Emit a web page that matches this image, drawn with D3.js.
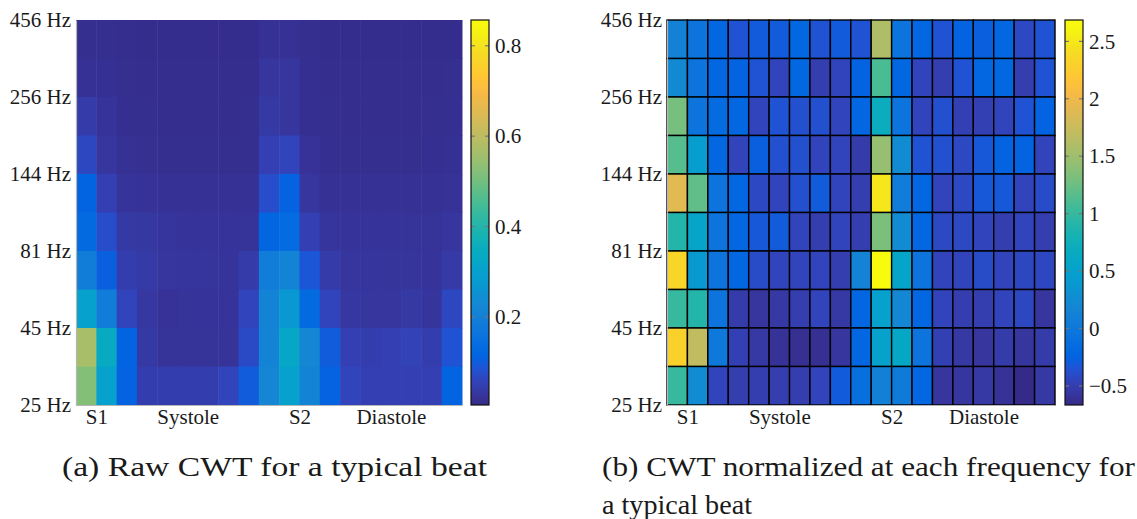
<!DOCTYPE html>
<html>
<head>
<meta charset="utf-8">
<script src="https://cdn.jsdelivr.net/npm/d3@7"></script>
</head>
<body style="margin:0">
<svg id="chart" width="1137" height="519"></svg>
<script>
// frequency labels sit on row edges 0,2,4,...,10 (top to bottom)
const freqLabels = ['456 Hz', '256 Hz', '144 Hz', '81 Hz', '45 Hz', '25 Hz']
const freqEdges = [0, 2, 4, 6, 8, 10]
// phase labels, in column units
const phaseLabels = ['S1', 'Systole', 'S2', 'Diastole']
const phaseCols = [1, 5.5, 11, 15.5]

// raw CWT, rows from 456 Hz (top) down to 25 Hz, 19 time bins
const rawCwt = [
  [0.015, 0.015, 0.013, 0.012, 0.012, 0.012, 0.012, 0.012, 0.012, 0.020, 0.020, 0.015, 0.012, 0.012, 0.012, 0.012, 0.012, 0.012, 0.012],
  [0.020, 0.018, 0.015, 0.014, 0.013, 0.013, 0.013, 0.013, 0.013, 0.030, 0.030, 0.016, 0.014, 0.014, 0.014, 0.014, 0.014, 0.014, 0.015],
  [0.040, 0.025, 0.016, 0.015, 0.014, 0.014, 0.014, 0.014, 0.015, 0.035, 0.030, 0.016, 0.015, 0.014, 0.014, 0.014, 0.014, 0.015, 0.016],
  [0.065, 0.030, 0.020, 0.017, 0.015, 0.015, 0.015, 0.015, 0.015, 0.050, 0.060, 0.022, 0.016, 0.015, 0.015, 0.015, 0.015, 0.016, 0.018],
  [0.115, 0.050, 0.025, 0.022, 0.020, 0.020, 0.020, 0.020, 0.020, 0.075, 0.110, 0.030, 0.020, 0.020, 0.020, 0.020, 0.020, 0.020, 0.022],
  [0.130, 0.075, 0.035, 0.033, 0.028, 0.026, 0.025, 0.025, 0.024, 0.120, 0.135, 0.050, 0.028, 0.025, 0.025, 0.025, 0.024, 0.024, 0.030],
  [0.190, 0.105, 0.045, 0.038, 0.030, 0.028, 0.027, 0.026, 0.040, 0.190, 0.210, 0.090, 0.040, 0.030, 0.028, 0.027, 0.027, 0.026, 0.038],
  [0.300, 0.190, 0.060, 0.032, 0.022, 0.024, 0.025, 0.025, 0.060, 0.210, 0.270, 0.130, 0.060, 0.032, 0.030, 0.030, 0.035, 0.028, 0.065],
  [0.570, 0.340, 0.115, 0.035, 0.024, 0.024, 0.024, 0.024, 0.070, 0.210, 0.320, 0.220, 0.100, 0.050, 0.045, 0.050, 0.055, 0.045, 0.085],
  [0.520, 0.300, 0.110, 0.045, 0.045, 0.045, 0.045, 0.060, 0.100, 0.220, 0.300, 0.210, 0.110, 0.060, 0.050, 0.050, 0.050, 0.050, 0.115]
]
const rawRange = [0.005, 0.857]
const rawTicks = [0.2, 0.4, 0.6, 0.8]

// CWT normalized at each frequency
const normCwt = [
  [0.12, -0.05, -0.20, -0.35, -0.30, -0.30, -0.20, -0.35, -0.30, -0.35, 1.60, -0.05, -0.20, -0.35, -0.25, -0.27, -0.20, -0.42, -0.35],
  [0.22, -0.05, -0.20, -0.25, -0.35, -0.45, -0.20, -0.50, -0.45, -0.25, 1.10, -0.20, -0.45, -0.50, -0.35, -0.20, -0.20, -0.50, -0.35],
  [1.30, -0.05, -0.15, -0.20, -0.45, -0.35, -0.37, -0.37, -0.45, -0.20, 0.70, -0.05, -0.45, -0.37, -0.48, -0.48, -0.45, -0.35, -0.25],
  [1.15, 0.45, -0.20, -0.45, -0.27, -0.37, -0.37, -0.45, -0.45, -0.52, 1.45, 0.25, -0.35, -0.37, -0.42, -0.32, -0.25, -0.25, -0.45],
  [1.90, 1.20, -0.05, -0.20, -0.42, -0.45, -0.37, -0.30, -0.45, -0.50, 2.50, 0.05, -0.20, -0.45, -0.42, -0.32, -0.32, -0.45, -0.40],
  [0.90, 0.55, -0.05, -0.20, -0.32, -0.30, -0.45, -0.50, -0.45, -0.50, 1.32, 0.25, -0.20, -0.42, -0.42, -0.45, -0.50, -0.45, -0.50],
  [2.35, 0.40, -0.05, -0.20, -0.40, -0.45, -0.45, -0.45, -0.50, 0.15, 2.68, 0.55, -0.05, -0.45, -0.45, -0.40, -0.45, -0.43, -0.43],
  [1.00, 0.90, -0.05, -0.53, -0.57, -0.55, -0.50, -0.45, -0.55, -0.20, 0.50, 0.20, -0.20, -0.45, -0.50, -0.50, -0.45, -0.43, -0.57],
  [2.30, 1.70, 0.00, -0.48, -0.55, -0.60, -0.62, -0.62, -0.57, -0.20, 0.52, 0.60, -0.05, -0.48, -0.55, -0.57, -0.52, -0.57, -0.52],
  [1.00, 0.25, -0.45, -0.50, -0.50, -0.50, -0.50, -0.45, -0.30, -0.10, 0.10, 0.03, -0.20, -0.57, -0.57, -0.55, -0.60, -0.666, -0.55]
]
const normRange = [-0.666, 2.686]
const normTicks = [-0.5, 0, 0.5, 1, 1.5, 2, 2.5]

// parula colormap (subsampled)
const parula = [
  [0.2081, 0.1663, 0.5292], [0.2123, 0.2138, 0.6270], [0.1959, 0.2645, 0.7279],
  [0.1253, 0.3242, 0.8303], [0.0117, 0.3875, 0.8820], [0.0165, 0.4266, 0.8786],
  [0.0498, 0.4586, 0.8641], [0.0723, 0.4887, 0.8467], [0.0793, 0.5200, 0.8312],
  [0.0641, 0.5570, 0.8240], [0.0343, 0.5966, 0.8199], [0.0239, 0.6287, 0.8038],
  [0.0228, 0.6535, 0.7768], [0.0384, 0.6743, 0.7436], [0.0843, 0.6928, 0.7062],
  [0.1453, 0.7098, 0.6646], [0.2178, 0.7250, 0.6193], [0.3022, 0.7376, 0.5712],
  [0.3953, 0.7459, 0.5244], [0.4871, 0.7491, 0.4840], [0.5709, 0.7485, 0.4494],
  [0.6473, 0.7456, 0.4188], [0.7184, 0.7411, 0.3905], [0.7858, 0.7356, 0.3633],
  [0.8507, 0.7299, 0.3360], [0.9139, 0.7258, 0.3063], [0.9739, 0.7314, 0.2666],
  [0.9990, 0.7653, 0.2164], [0.9880, 0.8066, 0.1794], [0.9697, 0.8481, 0.1475],
  [0.9589, 0.8949, 0.1132], [0.9661, 0.9514, 0.0755], [0.9763, 0.9831, 0.0538]
].map(c => d3.rgb(c[0] * 255, c[1] * 255, c[2] * 255).toString())

const svg = d3.select('#chart')
const fmt = d => d < 0 ? '\u2212' + Math.abs(d) : String(d)

function styleText (sel, size) {
  sel.style('font-family', '"Liberation Serif"')
    .style('font-size', size + 'px')
    .style('fill', '#1a1a1a')
}

function drawPanel (opt) {
  const { data, range, ticks, x0, x1, cb0, cb1, grid, id } = opt
  const top = 20
  const bottom = 405
  const nCols = data[0].length
  const nRows = data.length

  const color = d3.scaleLinear()
    .domain(parula.map((c, i) => range[0] + (range[1] - range[0]) * i / (parula.length - 1)))
    .range(parula)
    .clamp(true)

  const x = d3.scaleBand().domain(d3.range(nCols)).range([x0, x1])
  const y = d3.scaleBand().domain(d3.range(nRows)).range([top, bottom])
  const g = svg.append('g')

  const cells = []
  data.forEach((row, r) => row.forEach((v, c) => cells.push({ r, c, v })))
  g.selectAll('rect.cell')
    .data(cells)
    .enter().append('rect')
    .attr('class', 'cell')
    .attr('x', d => x(d.c))
    .attr('y', d => y(d.r))
    .attr('width', x.bandwidth() + (grid ? 0 : 0.5))
    .attr('height', y.bandwidth() + (grid ? 0 : 0.5))
    .attr('fill', d => color(d.v))
    .attr('stroke', grid ? '#000' : 'none')
    .attr('stroke-width', grid ? 1.4 : 0)

  // axes: frequency on left, phase below
  const yEdge = d3.scaleLinear().domain([0, nRows]).range([top, bottom])
  const yAxis = g.append('g')
    .attr('transform', `translate(${x0},0)`)
    .call(d3.axisLeft(yEdge).tickValues(freqEdges).tickFormat((d, i) => freqLabels[i]).tickSize(0).tickPadding(5))
  const xCol = d3.scaleLinear().domain([0, nCols]).range([x0, x1])
  const xAxis = g.append('g')
    .attr('transform', `translate(0,${bottom})`)
    .call(d3.axisBottom(xCol).tickValues(phaseCols).tickFormat((d, i) => phaseLabels[i]).tickSize(0).tickPadding(4))
  ;[yAxis, xAxis].forEach(a => {
    a.attr('font-family', null).attr('font-size', null)
    a.select('.domain').attr('stroke', '#b5b5b5').attr('stroke-width', 1.2)
    styleText(a.selectAll('text'), 21)
  })

  // colorbar
  const grad = svg.append('defs').append('linearGradient')
    .attr('id', id).attr('x1', 0).attr('y1', 1).attr('x2', 0).attr('y2', 0)
  parula.forEach((c, i) => {
    grad.append('stop').attr('offset', i / (parula.length - 1)).attr('stop-color', c)
  })
  const cy = d3.scaleLinear().domain(range).range([bottom, top])
  g.append('rect')
    .attr('x', cb0).attr('y', top)
    .attr('width', cb1 - cb0).attr('height', bottom - top)
    .attr('fill', `url(#${id})`)
  g.selectAll('line.cbtick')
    .data(ticks.flatMap(t => [[t, cb0], [t, cb1 - 4]]))
    .enter().append('line')
    .attr('class', 'cbtick')
    .attr('x1', d => d[1]).attr('x2', d => d[1] + 4)
    .attr('y1', d => cy(d[0])).attr('y2', d => cy(d[0]))
    .attr('stroke', '#777').attr('stroke-width', 1.2)
  g.append('rect')
    .attr('x', cb0).attr('y', top)
    .attr('width', cb1 - cb0).attr('height', bottom - top)
    .attr('fill', 'none').attr('stroke', '#111').attr('stroke-width', 1.2)
  const cAxis = g.append('g')
    .attr('transform', `translate(${cb1},0)`)
    .call(d3.axisRight(cy).tickValues(ticks).tickFormat(fmt).tickSize(0).tickPadding(6))
  cAxis.attr('font-family', null).attr('font-size', null)
  cAxis.select('.domain').remove()
  styleText(cAxis.selectAll('text'), 21)
}

drawPanel({ data: rawCwt, range: rawRange, ticks: rawTicks, x0: 76, x1: 462, cb0: 471, cb1: 489, grid: false, id: 'cbA' })
drawPanel({ data: normCwt, range: normRange, ticks: normTicks, x0: 667, x1: 1055, cb0: 1065, cb1: 1083, grid: true, id: 'cbB' })

// captions, directly on the svg
const caption = (x, y, str, len) => {
  const t = svg.append('text').attr('x', x).attr('y', y).text(str)
    .attr('textLength', len).attr('lengthAdjust', 'spacingAndGlyphs')
  styleText(t, 27)
}
caption(62, 476, '(a) Raw CWT for a typical beat', 425)
caption(602, 476, '(b) CWT normalized at each frequency for', 533)
caption(602, 514, 'a typical beat', 150)
</script>
</body>
</html>
